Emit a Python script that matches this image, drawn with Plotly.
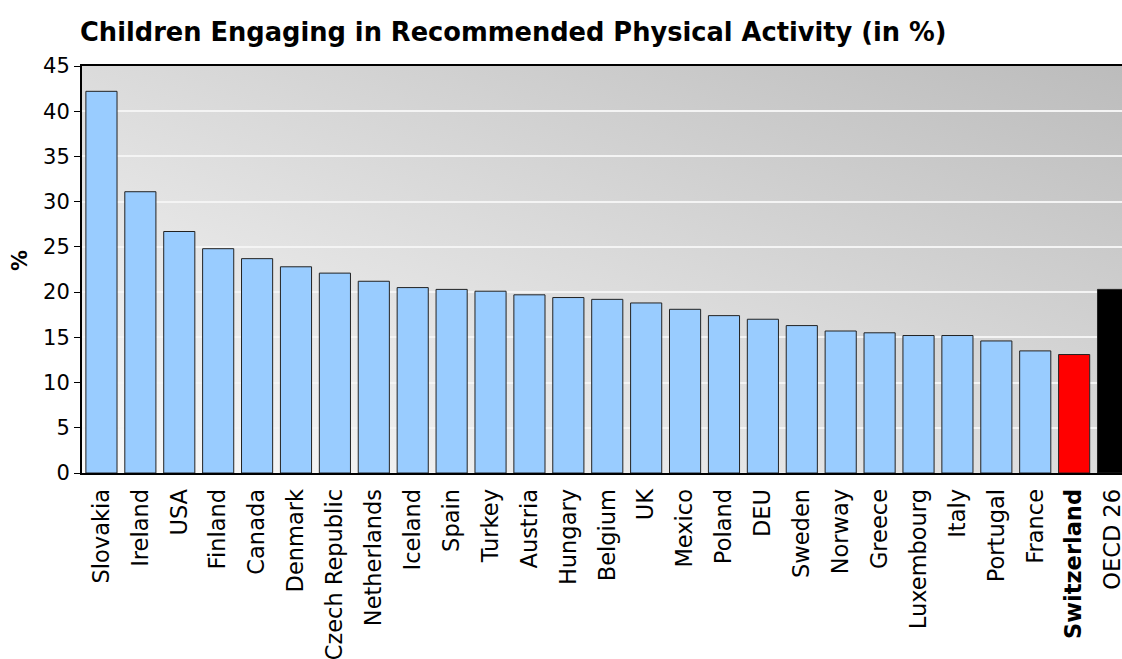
import base64
import plotly.graph_objects as go

categories = ["Slovakia", "Ireland", "USA", "Finland", "Canada", "Denmark",
              "Czech Republic", "Netherlands", "Iceland", "Spain", "Turkey",
              "Austria", "Hungary", "Belgium", "UK", "Mexico", "Poland", "DEU",
              "Sweden", "Norway", "Greece", "Luxembourg", "Italy", "Portugal",
              "France", "Switzerland", "OECD 26"]
values = [42.2, 31.1, 26.7, 24.8, 23.7, 22.8, 22.1, 21.2, 20.5, 20.3, 20.1,
          19.7, 19.4, 19.2, 18.8, 18.1, 17.4, 17.0, 16.3, 15.7, 15.5, 15.2,
          15.2, 14.6, 13.5, 13.1, 20.3]
highlight = {"Switzerland": "#FF0000", "OECD 26": "#000000"}
y_ticks = [0, 5, 10, 15, 20, 25, 30, 35, 40, 45]

W, H = 1122, 659
L, T, B = 82, 66, 186

colors = [highlight.get(c, "#99CCFF") for c in categories]
ticktext = ["<b>%s</b>" % c if c == "Switzerland" else c for c in categories]

svg = ('<svg xmlns="http://www.w3.org/2000/svg" width="100" height="100" '
       'preserveAspectRatio="none" viewBox="0 0 100 100">'
       '<defs><linearGradient id="g" x1="0" y1="1" x2="1" y2="0">'
       '<stop offset="0" stop-color="#fafafa"/>'
       '<stop offset="1" stop-color="#bcbcbc"/>'
       '</linearGradient></defs>'
       '<rect x="0" y="0" width="100" height="100" fill="url(#g)"/></svg>')
src = "data:image/svg+xml;base64," + base64.b64encode(svg.encode()).decode()

fig = go.Figure()
fig.add_trace(go.Bar(
    x=list(range(len(categories))), y=values,
    marker=dict(color=colors, line=dict(color="#222222", width=1)),
    width=0.8, hoverinfo="skip", cliponaxis=True,
))

font = "DejaVu Sans, Verdana, sans-serif"
plot_h = H - T - B
fig.update_layout(
    template="none",
    width=W, height=H,
    margin=dict(l=L, r=0, t=T, b=B, pad=0, autoexpand=False),
    paper_bgcolor="white", plot_bgcolor="rgba(0,0,0,0)",
    showlegend=False,
    font=dict(family=font, size=20, color="black"),
    title=dict(text="<b>Children Engaging in Recommended Physical Activity (in %)</b>",
               x=80 / W, xanchor="left", xref="container",
               y=1 - 32 / H, yanchor="middle", yref="container",
               font=dict(family=font, size=25.7, color="black")),
    images=[dict(source=src, xref="paper", yref="paper", x=0, y=1,
                 sizex=1, sizey=1, sizing="stretch", layer="below",
                 xanchor="left", yanchor="top")],
    xaxis=dict(range=[-0.5, 26.23], tickmode="array",
               tickvals=list(range(len(categories))), ticktext=ticktext,
               tickangle=-90, showgrid=False, showline=True, linecolor="black",
               linewidth=2, mirror=True, ticks="outside",
               ticklen=0, tickcolor="black", ticklabelstandoff=5,
               ticklabeloverflow="allow",
               tickfont=dict(size=22.5), zeroline=False, automargin=False),
    yaxis=dict(range=[0, 45], tickmode="array", tickvals=y_ticks,
               ticksuffix="\u00a0",
               showgrid=True, gridcolor="#f4f4f4", gridwidth=2,
               showline=True, linecolor="black", linewidth=2,
               ticks="outside", ticklen=6, tickcolor="black",
               tickfont=dict(size=21), zeroline=False, automargin=False),
    annotations=[
        dict(text="<b>%</b>", textangle=-90, xref="paper", yref="paper",
             x=(20 - L) / (W - L), y=(473 - 261) / plot_h,
             xanchor="center", yanchor="middle", showarrow=False, borderpad=0,
             font=dict(family=font, size=21, color="black")),
    ],
)

fig.write_html("out.html",
               config={"displayModeBar": False},
               post_script="document.body.style.margin='0';"
                           "document.body.style.overflow='hidden';")
